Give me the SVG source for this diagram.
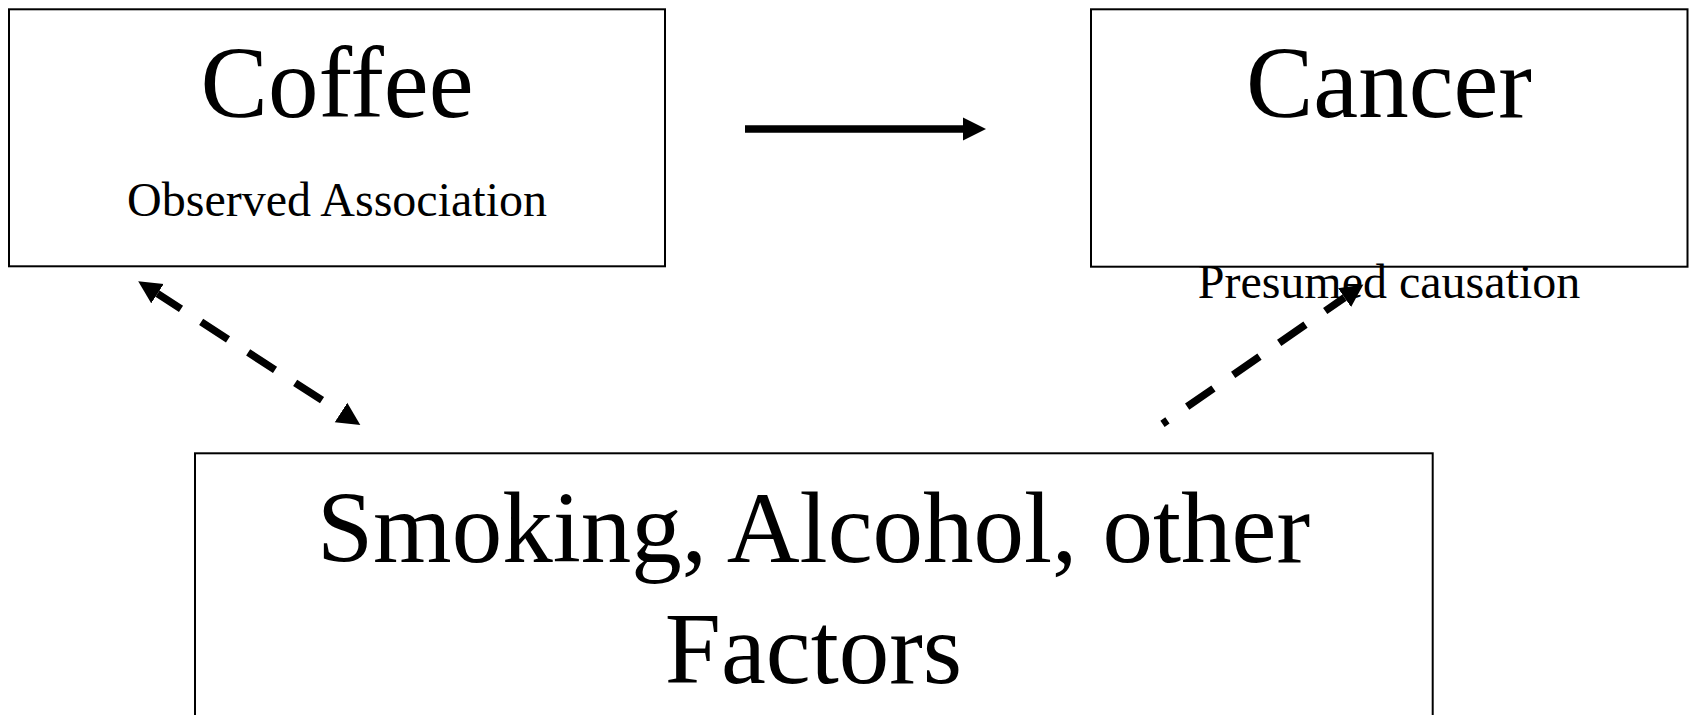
<svg xmlns="http://www.w3.org/2000/svg" width="1694" height="715" viewBox="0 0 1694 715">
<style>
.box{fill:#fff;stroke:#000;stroke-width:2}
.big{font-family:"Liberation Serif","Times New Roman",serif;font-size:101px;fill:#000;text-anchor:middle}
.small{font-family:"Liberation Serif","Times New Roman",serif;font-size:48px;fill:#000;text-anchor:middle}
.conn{fill:none;stroke:#000;stroke-width:7.5;stroke-linecap:butt}
.dash{stroke-dasharray:32 24}
</style>
<defs>
<marker id="head" markerUnits="userSpaceOnUse" viewBox="0 -12 24 24" markerWidth="24" markerHeight="24" refX="0" refY="0" orient="auto-start-reverse">
<path d="M0,-11.5 L23,0 L0,11.5 Z" fill="#000"/>
</marker>
</defs>
<rect width="1694" height="715" fill="#fff"/>
<g id="coffee">
<rect class="box" x="9" y="9.3" width="656" height="257"/>
<text class="big" x="337" y="117">Coffee</text>
<text class="small" x="337" y="216">Observed Association</text>
</g>
<g id="cancer">
<rect class="box" x="1091" y="9.3" width="596.5" height="257.4"/>
<text class="big" x="1389" y="117">Cancer</text>
<text class="small" x="1389" y="298">Presumed causation</text>
</g>
<g id="factors">
<rect class="box" x="195" y="453.3" width="1237.7" height="320"/>
<text class="big" x="813.5" y="562">Smoking, Alcohol, other</text>
<text class="big" x="813.5" y="683">Factors</text>
</g>
<g id="connectors">
<path class="conn" d="M745,129 L963,129" marker-end="url(#head)"/>
<path class="conn dash" style="stroke-dashoffset:4" d="M157.5,293.7 L341,412.5" marker-start="url(#head)" marker-end="url(#head)"/>
<path class="conn dash" style="stroke-dashoffset:26" d="M1162.5,423.8 L1344.5,297.6" marker-end="url(#head)"/>
</g>
</svg>
